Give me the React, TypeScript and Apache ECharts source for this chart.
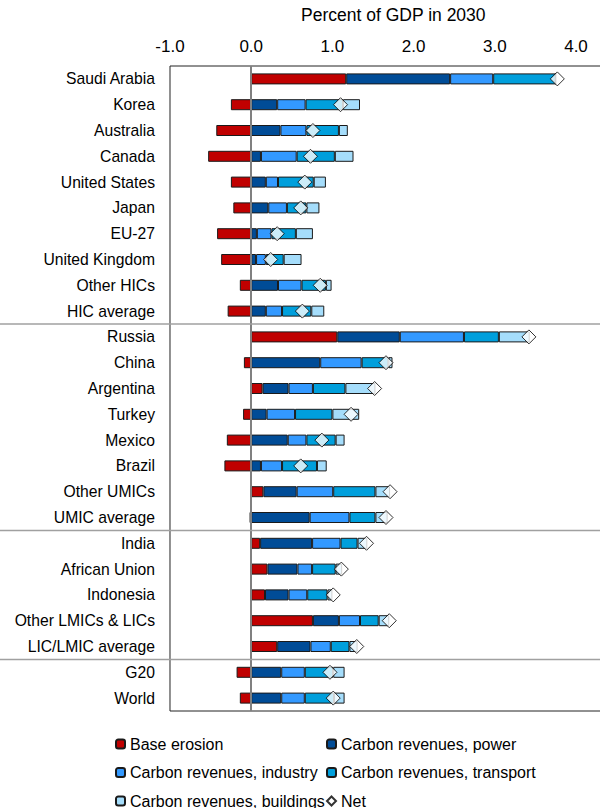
import React, { useEffect, useRef } from "react";
import * as echarts from "echarts";

const categories = [
  "Saudi Arabia", "Korea", "Australia", "Canada", "United States", "Japan", "EU-27",
  "United Kingdom", "Other HICs", "HIC average", "Russia", "China", "Argentina", "Turkey",
  "Mexico", "Brazil", "Other UMICs", "UMIC average", "India", "African Union", "Indonesia",
  "Other LMICs & LICs", "LIC/LMIC average", "G20", "World",
];
const baseErosion = [1.17, -0.25, -0.43, -0.53, -0.25, -0.22, -0.42, -0.37, -0.14, -0.29, 1.06, -0.09, 0.14, -0.1, -0.3, -0.33, 0.15, -0.02, 0.11, 0.2, 0.17, 0.76, 0.32, -0.18, -0.14];
const power = [1.28, 0.32, 0.36, 0.12, 0.18, 0.21, 0.07, 0.06, 0.33, 0.18, 0.77, 0.85, 0.32, 0.19, 0.45, 0.12, 0.41, 0.72, 0.64, 0.37, 0.29, 0.32, 0.41, 0.37, 0.37];
const industry = [0.53, 0.35, 0.32, 0.44, 0.15, 0.23, 0.18, 0.12, 0.29, 0.2, 0.79, 0.51, 0.3, 0.35, 0.23, 0.26, 0.45, 0.49, 0.35, 0.18, 0.23, 0.26, 0.25, 0.29, 0.29];
const transport = [0.77, 0.46, 0.4, 0.47, 0.44, 0.24, 0.3, 0.22, 0.3, 0.36, 0.43, 0.33, 0.4, 0.46, 0.36, 0.43, 0.52, 0.32, 0.21, 0.29, 0.25, 0.23, 0.23, 0.35, 0.36];
const buildings = [0, 0.21, 0.11, 0.23, 0.15, 0.16, 0.21, 0.22, 0.07, 0.16, 0.38, 0.05, 0.37, 0.33, 0.11, 0.12, 0.18, 0.15, 0.12, 0.08, 0.06, 0.13, 0.1, 0.14, 0.13];
const net = [3.77, 1.1, 0.76, 0.73, 0.66, 0.61, 0.32, 0.24, 0.85, 0.63, 3.42, 1.66, 1.52, 1.23, 0.87, 0.61, 1.71, 1.66, 1.42, 1.11, 1.01, 1.7, 1.3, 0.97, 1.01];
const groupEnds = ["HIC average", "UMIC average", "LIC/LMIC average"];
const axisTitle = "Percent of GDP in 2030";

const seriesDefs = [
  { name: "Base erosion", data: baseErosion, color: "#C00000" },
  { name: "Carbon revenues, power", data: power, color: "#004C97" },
  { name: "Carbon revenues, industry", data: industry, color: "#3399FF" },
  { name: "Carbon revenues, transport", data: transport, color: "#009FDC" },
  { name: "Carbon revenues, buildings", data: buildings, color: "#A5DDFB" },
];

// legend layout: [name, column, row]
const legendLayout: [string, number, number][] = [
  ["Base erosion", 0, 0],
  ["Carbon revenues, power", 1, 0],
  ["Carbon revenues, industry", 0, 1],
  ["Carbon revenues, transport", 1, 1],
  ["Carbon revenues, buildings", 0, 2],
  ["Net", 1, 2],
];

const FONT = "'Liberation Sans', Arial, sans-serif";

export default function App() {
  const ref = useRef<HTMLDivElement>(null);
  useEffect(() => {
    if (!ref.current) return;
    const chart = echarts.init(ref.current, null, { renderer: "svg" });
    const barSeries = seriesDefs.map((s, i) => ({
      name: s.name,
      type: "bar",
      stack: "total",
      barWidth: 11,
      data: s.data,
      itemStyle: { color: s.color, borderColor: "#1a1a1a", borderWidth: 1 },
      ...(i === 0
        ? {
            markLine: {
              silent: true,
              symbol: "none",
              label: { show: false },
              lineStyle: { color: "#808080", width: 2, type: "solid" },
              data: [{ xAxis: 0 }],
            },
          }
        : {}),
    }));
    const legendText = { fontSize: 16, color: "#000", fontFamily: FONT };
    const colX = [115, 326];
    const rowY = [736, 764.5, 793];
    chart.setOption({
      animation: false,
      textStyle: { fontFamily: FONT },
      grid: {
        left: 170,
        top: 66,
        height: 645,
        width: 5.5 * 81.2,
        outerBoundsMode: "none",
        containLabel: false,
        show: true,
        borderColor: "#222",
        borderWidth: 1,
      },
      xAxis: {
        type: "value",
        position: "top",
        min: -1,
        max: 4.5,
        interval: 1,
        name: axisTitle,
        nameLocation: "middle",
        nameGap: 42,
        nameTextStyle: { fontSize: 17.5, color: "#000", fontFamily: FONT },
        axisLine: { show: false },
        axisTick: { show: false },
        splitLine: { show: false },
        axisLabel: {
          fontSize: 17,
          color: "#000",
          margin: 11,
          formatter: (v: number) => (Number.isInteger(v) && v <= 4 ? v.toFixed(1) : ""),
        },
      },
      yAxis: {
        type: "category",
        inverse: true,
        data: categories,
        axisLine: { show: false },
        axisTick: { show: false },
        splitLine: { show: false },
        axisLabel: { fontSize: 15.7, color: "#000", margin: 15 },
      },
      legend: legendLayout.map(([name, c, r]) => ({
        left: colX[c],
        top: rowY[r],
        padding: 0,
        itemWidth: 9,
        itemHeight: 9,
        textStyle: legendText,
        data: [name],
      })),
      series: [
        ...barSeries,
        {
          name: "Net",
          type: "scatter",
          symbol: "diamond",
          symbolSize: 14,
          z: 5,
          data: net.map((v, i) => [v, categories[i]]),
          itemStyle: { color: "#fff", borderColor: "#000", borderWidth: 1 },
        },
      ],
    });

    const idx = groupEnds.map((c) => categories.indexOf(c));
    const lines = idx.map((i) => {
      const y1 = chart.convertToPixel({ yAxisIndex: 0 }, categories[i]) as number;
      const y2 = chart.convertToPixel({ yAxisIndex: 0 }, categories[i + 1]) as number;
      const y = (y1 + y2) / 2;
      return {
        type: "line",
        silent: true,
        z: 10,
        shape: { x1: 0, y1: y, x2: 600, y2: y },
        style: { stroke: "#A0A0A0", lineWidth: 1.5 },
      };
    });
    chart.setOption({ graphic: lines });

    return () => chart.dispose();
  }, []);
  return (
    <div
      ref={ref}
      style={{ position: "fixed", left: 0, top: 0, width: 600, height: 808, background: "#fff" }}
    />
  );
}
